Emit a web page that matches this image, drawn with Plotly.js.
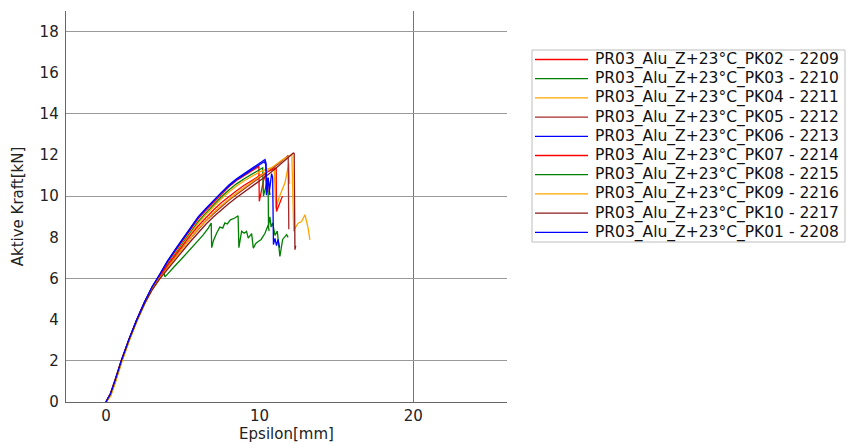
<!DOCTYPE html>
<html>
<head>
<meta charset="utf-8">
<script src="https://cdn.plot.ly/plotly-3.0.1.min.js"></script>
<style>html,body{margin:0;padding:0;background:#fff;}#chart{width:849px;height:445px;}</style>
</head>
<body>
<div id="chart"></div>
<script>
// Series names (legend order)
const seriesNames = [
  "PR03_Alu_Z+23°C_PK02 - 2209",
  "PR03_Alu_Z+23°C_PK03 - 2210",
  "PR03_Alu_Z+23°C_PK04 - 2211",
  "PR03_Alu_Z+23°C_PK05 - 2212",
  "PR03_Alu_Z+23°C_PK06 - 2213",
  "PR03_Alu_Z+23°C_PK07 - 2214",
  "PR03_Alu_Z+23°C_PK08 - 2215",
  "PR03_Alu_Z+23°C_PK09 - 2216",
  "PR03_Alu_Z+23°C_PK10 - 2217",
  "PR03_Alu_Z+23°C_PK01 - 2208"
];
const seriesColors = ["#ff0000","#008000","#ffa500","#a52a2a","#0000ff","#ff0000","#008000","#ffa500","#8b1a1a","#0000ff"];

// Epsilon [mm] / Aktive Kraft [kN]
const x_pk02 = [0,0.3,0.6,1.0,1.5,2.0,2.5,3.0,3.5,4.0,4.5,5.0,5.5,6.0,6.5,7.0,7.5,8.0,8.5,9.0,9.5,9.95,9.98,10.1,10.25,10.4,10.5,10.55];
const y_pk02 = [0,0.38,1.03,1.98,3.03,3.98,4.82,5.56,6.15,6.78,7.32,7.86,8.4,8.9,9.3,9.7,10.1,10.46,10.76,11.0,11.25,11.45,9.75,10.2,10.75,11.1,10.8,10.2];

const x_pk03 = [0,0.3,0.6,1.0,1.5,2.0,2.5,3.0,3.5,4.0,4.5,5.0,5.5,6.0,6.5,7.0,7.5,8.0,8.5,9.0,9.5,10.0,10.2,10.25,10.45,10.56,10.58,10.67,10.75,10.85,11.0,11.15,11.32,11.5,11.76,11.85];
const y_pk03 = [0,0.36,1.0,1.95,3.0,3.95,4.78,5.5,6.08,6.68,7.2,7.74,8.27,8.76,9.18,9.58,9.96,10.3,10.6,10.85,11.08,11.3,11.38,10.0,10.6,10.15,8.55,9.0,8.5,8.7,8.1,8.3,7.07,7.9,8.13,8.0];

const x_pk04 = [0,0.3,0.6,1.0,1.5,2.0,2.5,3.0,3.5,4.0,4.5,5.0,5.5,6.0,6.5,7.0,7.5,8.0,8.5,9.0,9.5,10.0,10.5,10.95,11.05,11.3,11.65,11.9,11.95];
const y_pk04 = [0,0.3,0.95,1.9,2.96,3.92,4.76,5.48,6.06,6.64,7.15,7.68,8.2,8.68,9.1,9.5,9.86,10.2,10.5,10.75,10.98,11.18,11.33,11.4,9.4,10.0,10.65,11.6,10.6];

const x_pk05 = [0,0.3,0.6,1.0,1.5,2.0,2.5,3.0,3.5,4.0,4.5,5.0,5.5,6.0,6.5,7.0,7.5,8.0,8.5,9.0,9.5,10.0,10.5,11.0,11.5,11.86,11.9];
const y_pk05 = [0,0.42,1.08,2.02,3.05,3.98,4.8,5.5,6.05,6.55,7.0,7.5,7.95,8.4,8.8,9.15,9.5,9.8,10.08,10.35,10.6,10.88,11.15,11.45,11.75,11.98,8.4];

const x_pk06 = [0,0.3,0.6,1.0,1.5,2.0,2.5,3.0,3.5,4.0,4.5,5.0,5.5,6.0,6.5,7.0,7.5,8.0,8.5,9.0,9.5,10.0,10.3,10.4,10.45,10.55,10.65,10.78,10.85,10.9,11.0,11.1,11.2,11.3];
const y_pk06 = [0,0.39,1.04,1.99,3.04,3.99,4.84,5.59,6.19,6.83,7.38,7.93,8.47,8.97,9.37,9.77,10.16,10.5,10.8,11.05,11.3,11.54,11.68,11.55,10.1,10.9,10.3,11.1,10.9,7.65,7.95,7.6,7.9,7.5];

const x_pk07 = [0,0.3,0.6,1.0,1.5,2.0,2.5,3.0,3.5,4.0,4.5,5.0,5.5,6.0,6.5,7.0,7.5,8.0,8.5,9.0,9.5,10.0,10.5,10.9,11.08,11.1,11.25,11.43,11.5];
const y_pk07 = [0,0.37,1.02,1.97,3.02,3.97,4.8,5.52,6.1,6.65,7.12,7.62,8.1,8.55,8.96,9.33,9.68,9.98,10.27,10.53,10.78,11.0,11.2,11.33,11.37,9.26,9.6,9.9,10.0];

const x_pk08 = [0,0.3,0.6,1.0,1.5,2.0,2.5,3.0,3.5,3.78,3.84,4.0,4.5,5.0,5.5,6.0,6.33,6.66,6.85,6.88,7.0,7.2,7.41,7.6,7.74,7.9,8.1,8.39,8.6,8.65,8.83,9.0,9.15,9.26,9.48,9.59,9.75,9.91,10.1,10.35,10.56,10.62];
const y_pk08 = [0,0.33,0.97,1.93,2.97,3.92,4.75,5.48,6.02,6.25,6.08,6.2,6.62,7.02,7.42,7.82,8.12,8.45,8.7,7.5,7.85,8.2,8.5,8.45,8.7,8.65,8.85,8.94,9.05,7.5,8.3,8.2,8.29,7.96,8.18,7.48,7.7,7.8,7.9,8.2,8.6,8.3];

const x_pk09 = [0,0.3,0.6,1.0,1.5,2.0,2.5,3.0,3.5,4.0,4.5,5.0,5.5,6.0,6.5,7.0,7.5,8.0,8.5,9.0,9.5,10.0,10.5,11.0,11.5,11.97,12.1,12.22,12.3,12.51,12.73,12.95,13.16,13.27];
const y_pk09 = [0,0.28,0.92,1.88,2.95,3.9,4.74,5.46,6.02,6.52,7.0,7.5,7.96,8.42,8.83,9.2,9.55,9.86,10.15,10.42,10.68,10.95,11.22,11.5,11.78,12.0,12.02,8.3,8.45,8.69,8.77,9.1,8.45,7.88];

const x_pk10 = [0,0.3,0.6,1.0,1.5,2.0,2.5,3.0,3.5,4.0,4.5,5.0,5.5,6.0,6.5,7.0,7.5,8.0,8.5,9.0,9.5,10.0,10.5,11.0,11.5,11.9,12.19,12.25,12.3,12.35];
const y_pk10 = [0,0.44,1.1,2.03,3.04,3.95,4.76,5.44,5.98,6.45,6.88,7.35,7.8,8.24,8.64,9.0,9.34,9.65,9.94,10.2,10.46,10.74,11.02,11.32,11.65,11.92,12.1,12.08,7.4,7.6];

const x_pk01 = [0,0.3,0.6,1.0,1.5,2.0,2.5,3.0,3.5,4.0,4.5,5.0,5.5,6.0,6.5,7.0,7.5,8.0,8.5,9.0,9.5,10.0,10.35,10.42,10.45,10.56,10.62,10.67];
const y_pk01 = [0,0.4,1.05,2.0,3.05,4.0,4.85,5.6,6.2,6.85,7.4,7.95,8.5,9.0,9.4,9.8,10.2,10.55,10.85,11.1,11.35,11.6,11.78,11.6,10.05,10.88,10.4,10.05];

const seriesX = [x_pk02,x_pk03,x_pk04,x_pk05,x_pk06,x_pk07,x_pk08,x_pk09,x_pk10,x_pk01];
const seriesY = [y_pk02,y_pk03,y_pk04,y_pk05,y_pk06,y_pk07,y_pk08,y_pk09,y_pk10,y_pk01];

const xTicks = [0,10,20];
const xGridVals = [20];
const yTicks = [0,2,4,6,8,10,12,14,16,18];
const yGridVals = [2,6,10,14,18];
const xRange = [-2.6, 26.1];
const yRange = [0, 19];

const FONT = "DejaVu Sans, Verdana, sans-serif";

// plot-area geometry in pixels (for the hand-made legend placement)
const PL = 66, PW = 441, PT = 11, PH = 391;
const px = v => (v - PL) / PW;
const py = v => (PT + PH - v) / PH;
const LEG = {left:532, right:845, top:50, bottom:242, firstRow:59.5, rowStep:19.2, lineX0:535, lineX1:588, textX:593};

const traces = seriesNames.map((n,i)=>({
  type:'scatter', mode:'lines', name:n,
  x: seriesX[i], y: seriesY[i],
  line:{color:seriesColors[i], width:1.3},
  xaxis:'x', yaxis:'y', showlegend:false
}));
traces.push({type:'scatter', mode:'lines', x:[], y:[], xaxis:'x2', yaxis:'y2', showlegend:false, hoverinfo:'skip'});

const shapes = [{type:'rect', xref:'paper', yref:'paper',
  x0:px(LEG.left), x1:px(LEG.right), y0:py(LEG.bottom), y1:py(LEG.top),
  line:{color:'#bdbdbd', width:1}, fillcolor:'rgba(0,0,0,0)'}];
const annotations = [];
seriesNames.forEach((n,i)=>{
  const yy = LEG.firstRow + i*LEG.rowStep;
  shapes.push({type:'line', xref:'paper', yref:'paper', x0:px(LEG.lineX0), x1:px(LEG.lineX1), y0:py(yy), y1:py(yy),
    line:{color:seriesColors[i], width:1.3}});
  annotations.push({xref:'paper', yref:'paper', x:px(LEG.textX), y:py(yy), xanchor:'left', yanchor:'middle',
    text:n, showarrow:false, font:{family:FONT, size:15.5, color:'#111'}});
});

const layout = {
  width:849, height:445,
  margin:{l:66, r:342, t:11, b:43},
  paper_bgcolor:'#fff', plot_bgcolor:'#fff',
  font:{family:FONT, size:15, color:'#222'},
  showlegend:false,
  shapes:shapes, annotations:annotations,
  xaxis:{range:xRange, tickmode:'array', tickvals:xTicks, showgrid:false, zeroline:false,
    showline:true, linecolor:'#666', linewidth:1.3, ticks:'',
    title:{text:'Epsilon[mm]', font:{family:FONT, size:15, color:'#222'}, standoff:2},
    automargin:false, fixedrange:true},
  yaxis:{range:yRange, tickmode:'array', tickvals:yTicks, showgrid:false, zeroline:false,
    showline:true, linecolor:'#666', linewidth:1.3, ticks:'', ticklabelstandoff:3,
    title:{text:'Aktive Kraft[kN]', font:{family:FONT, size:15, color:'#222'}, standoff:12},
    automargin:false, fixedrange:true},
  xaxis2:{overlaying:'x', range:xRange, tickmode:'array', tickvals:xGridVals, showgrid:true,
    gridcolor:'#777', gridwidth:1.2, showticklabels:false, zeroline:false, showline:false, ticks:'', fixedrange:true},
  yaxis2:{overlaying:'y', range:yRange, tickmode:'array', tickvals:yGridVals, showgrid:true,
    gridcolor:'#9a9a9a', gridwidth:1.2, showticklabels:false, zeroline:false, showline:false, ticks:'', fixedrange:true}
};

Plotly.newPlot('chart', traces, layout, {staticPlot:true, displayModeBar:false});
</script>
</body>
</html>
